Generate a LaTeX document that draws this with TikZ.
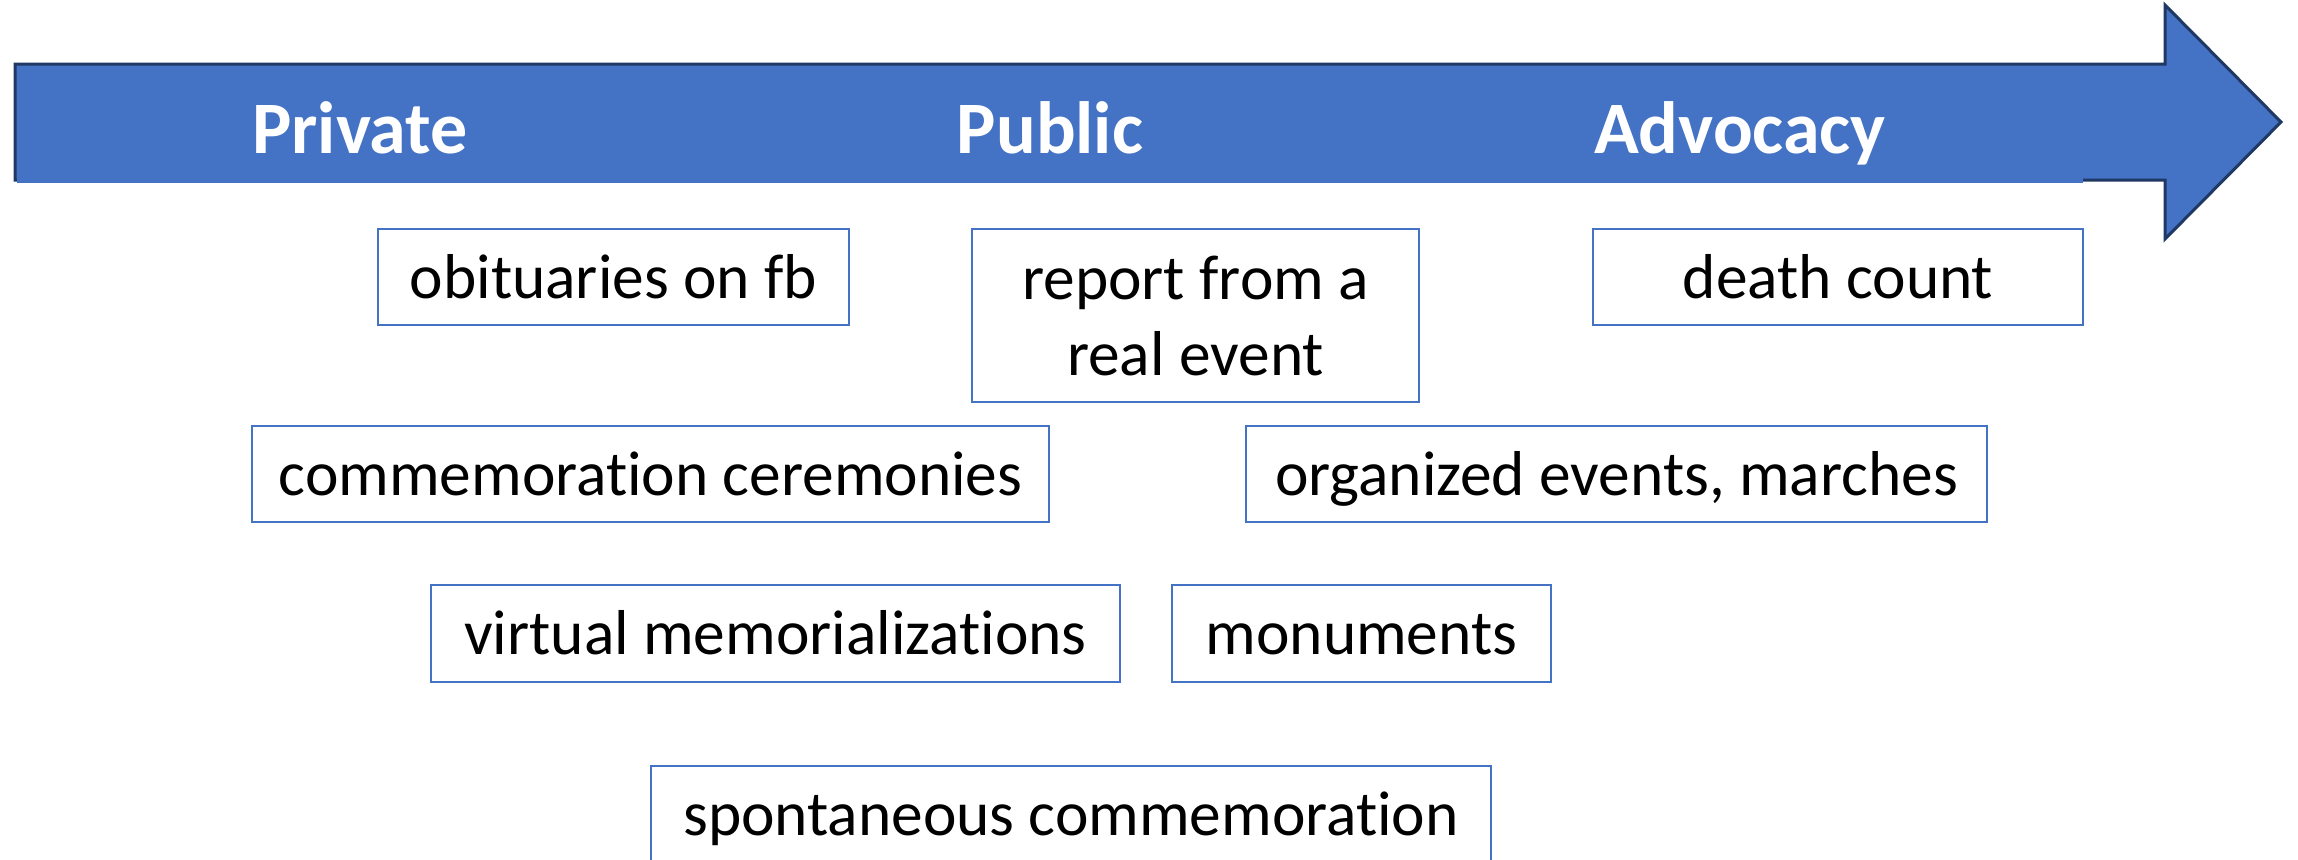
\documentclass[tikz,border=0pt]{standalone}
\usepackage{fontspec}
\setmainfont{Carlito}[Ligatures={NoCommon,NoRare},Contextuals=NoAlternate]
\definecolor{arrowblue}{HTML}{4472C4}
\definecolor{arrowedge}{HTML}{1F3864}
\definecolor{boxedge}{HTML}{4472C4}
\begin{document}
\begin{tikzpicture}[x=0.5pt,y=-0.5pt,
  box/.style={draw=boxedge, line width=1pt, inner sep=0pt, font=\fontsize{31.7}{38}\selectfont, text=black},
  single/.style={box, text height=22pt, text depth=1pt},
  title/.style={font=\fontsize{37}{44}\selectfont\bfseries, text=white, anchor=base, inner sep=0pt}]
\useasboundingbox (0,0) rectangle (2298,859);
\clip (0,0) rectangle (2298,859);
% big arrow
\draw[fill=arrowblue, draw=arrowedge, line width=1.5pt, line join=miter]
  (15,64) -- (2165,64) -- (2165,5) -- (2281,122) -- (2165,239) -- (2165,180) -- (15,180) -- cycle;
\fill[arrowblue] (17,67) rectangle (2083,183);
% titles
\node[title] (private) at (360,153) {Private};
\node[title] (public) at (1050,153) {Public};
\node[title] (advocacy) at (1740,153) {Advocacy};
% boxes
\node[single, minimum width=235.5pt, minimum height=48pt] (obit) at (613.5,277) {obituaries on fb};
\node[box, align=center, minimum width=223.5pt, minimum height=86.5pt] (report) at (1195.5,315.5) {report from a\\real event};
\node[single, minimum width=245pt, minimum height=48pt] (death) at (1838,277) {death count};
\node[single, minimum width=398.5pt, minimum height=48pt] (comm) at (650.5,474) {commemoration ceremonies};
\node[single, minimum width=370.5pt, minimum height=48pt] (org) at (1616.5,474) {organized events, marches};
\node[single, minimum width=344.5pt, minimum height=48.5pt] (virtual) at (775.5,633.5) {virtual memorializations};
\node[single, minimum width=189.5pt, minimum height=48.5pt] (monu) at (1361.5,633.5) {monuments};
\node[single, minimum width=420pt, minimum height=48pt] (spont) at (1071,814) {spontaneous commemoration};
\end{tikzpicture}
\end{document}
